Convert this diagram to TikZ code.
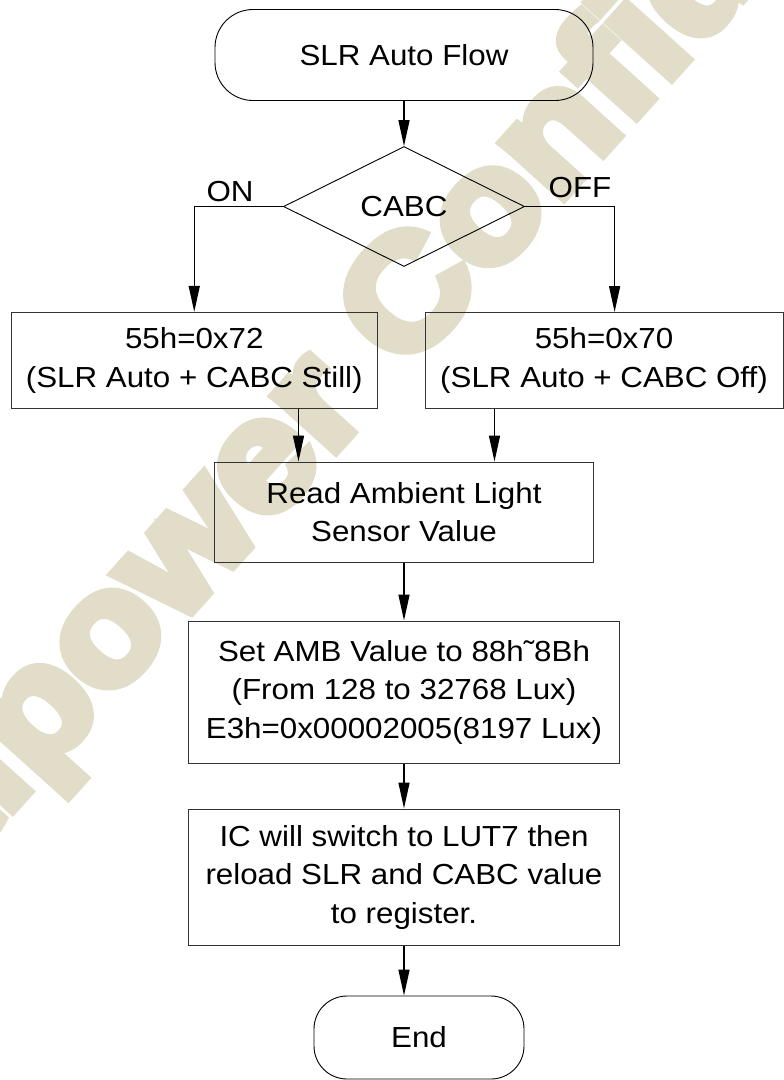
\documentclass[tikz,border=0pt]{standalone}
\usepackage{fontspec}
\setmainfont[FakeStretch=1.08]{Liberation Sans}
\newfontfamily\wmfont[FakeStretch=1.1,FakeBold=7]{Liberation Sans Bold}
\usetikzlibrary{shapes.geometric,arrows.meta}
\definecolor{wmark}{RGB}{226,221,201}

\begin{document}
\begin{tikzpicture}[
    x=1pt, y=-1pt,
    every node/.style={font=\fontsize{29}{38.5}\selectfont, align=center, inner sep=0pt},
    term/.style={draw, line width=0.9pt, rounded corners=#1},
    decision/.style={draw, diamond, line width=0.9pt, minimum width=241pt, minimum height=120pt},
    proc/.style={draw=black!80, line width=1pt},
    arr/.style={draw, line width=1.4pt, -{Triangle[length=26pt,width=11pt]}}
]
    \begin{scope}
        \clip (0,0) rectangle (784,1080);
        \node[rotate=48, anchor=base west, text=wmark, font=\wmfont\fontsize{155}{155}\selectfont] (wm) at (-135,973) {Fitipower Confidential};
    \end{scope}
    \useasboundingbox (0,0) rectangle (784,1080);

    \node[term=38pt, minimum width=378pt, minimum height=91pt] (start) at (404,55) {SLR Auto Flow};
    \node[decision] (cabc) at (404,206.5) {CABC};
    \node[anchor=base] (onlbl) at (230,201) {ON};
    \node[anchor=base] (offlbl) at (580,197) {OFF};
    \node[proc, minimum width=366.5pt, minimum height=96.5pt] (on) at (194.25,360.6) {55h=0x72\\(SLR Auto + CABC Still)};
    \node[proc, minimum width=358pt, minimum height=95.5pt] (off) at (604,360.25) {55h=0x70\\(SLR Auto + CABC Off)};
    \node[proc, minimum width=378.5pt, minimum height=100pt] (read) at (404,512) {Read Ambient Light\\Sensor Value};
    \node[proc, minimum width=431pt, minimum height=142pt] (amb) at (404,692) {Set AMB Value to 88h˜8Bh\\(From 128 to 32768 Lux)\\E3h=0x00002005(8197 Lux)};
    \node[proc, minimum width=431pt, minimum height=136pt] (lut) at (404,877) {IC will switch to LUT7 then\\reload SLR and CABC value\\to register.};
    \node[term=33pt, minimum width=210pt, minimum height=83pt] (finish) at (419,1037.5) {End};

    \coordinate (offin) at ([xshift=10.6pt]off.north);
    \coordinate (onout) at ([xshift=104.25pt]on.south);
    \coordinate (offout) at ([xshift=-109.5pt]off.south);

    \draw[arr] (start) -- (cabc);
    \draw[arr] (cabc.west) -| (on.north);
    \draw[arr] (cabc.east) -| (offin);
    \draw[arr] (onout) -- (onout |- read.north);
    \draw[arr] (offout) -- (offout |- read.north);
    \draw[arr] (read) -- (amb);
    \draw[arr] (amb) -- (lut);
    \draw[arr] (lut) -- (lut.south |- finish.north);
\end{tikzpicture}
\end{document}
